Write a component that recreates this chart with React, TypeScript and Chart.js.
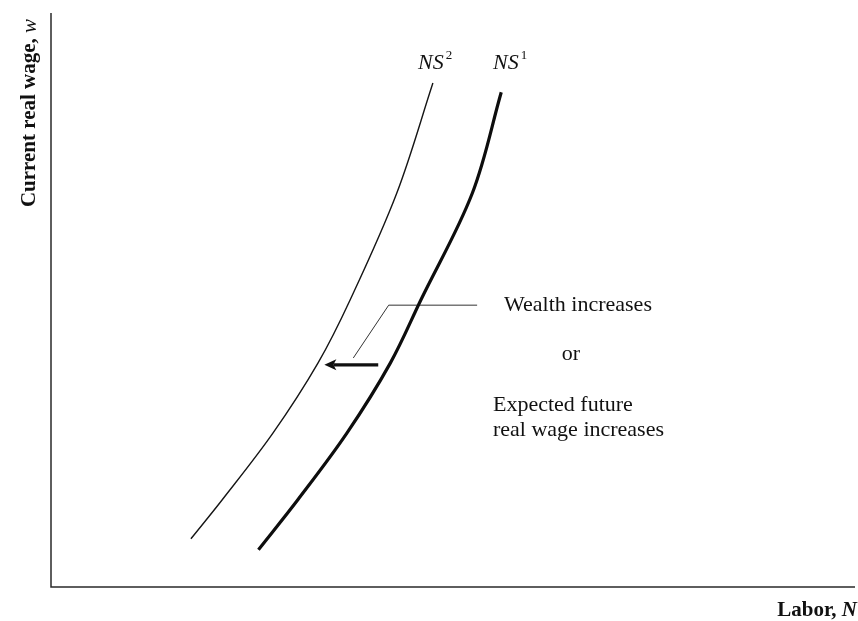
import React, { useEffect, useRef } from 'react';
import { Chart, registerables } from 'chart.js';

Chart.register(...registerables);

// Labor supply curves (x = labor N, y = current real wage w), axis units 0..100
const ns2Labor = [17.4, 21.3, 27.6, 33.2, 37.2, 43.0, 47.5];
const ns2Wage = [8.4, 15.2, 26.8, 39.0, 50.0, 68.6, 87.8];
const ns1Labor = [25.8, 30.7, 36.8, 42.2, 46.0, 52.4, 56.0];
const ns1Wage = [6.5, 15.2, 26.8, 39.0, 50.0, 68.6, 86.2];

// Leader line from the annotation text to the shift arrow
const leaderLabor = [53.0, 42.0, 37.6];
const leaderWage = [49.1, 49.1, 39.9];

// Shift arrow (from NS1 toward NS2)
const arrowLabor = [40.7, 34.0];
const arrowWage = 38.7;

const curveLabels = ['NS', 'NS'];
const curveSups = ['2', '1'];
const xTitle = ['Labor, ', 'N'];
const yTitle = ['Current real wage, ', 'w'];
const noteLines = ['Wealth increases', 'or', 'Expected future', 'real wage increases'];

const toPts = (xs: number[], ys: number[]) => xs.map((x, i) => ({ x, y: ys[i] }));

export default function App() {
  const ref = useRef<HTMLCanvasElement>(null);

  useEffect(() => {
    const canvas = ref.current!;
    const SERIF = '"Liberation Serif", "Times New Roman", serif';

    const annot = {
      id: 'annot',
      afterDatasetsDraw(chart: any) {
        const c = chart.ctx as CanvasRenderingContext2D;
        const { left, right, top, bottom } = chart.chartArea;
        const xs = chart.scales.x;
        const ys = chart.scales.y;
        c.save();

        // axes
        c.strokeStyle = '#2a2a2a';
        c.lineWidth = 1.5;
        c.beginPath();
        c.moveTo(left, top);
        c.lineTo(left, bottom);
        c.lineTo(right, bottom);
        c.stroke();

        // arrow
        const ax0 = xs.getPixelForValue(arrowLabor[0]);
        const ax1 = xs.getPixelForValue(arrowLabor[1]);
        const ay = ys.getPixelForValue(arrowWage);
        c.strokeStyle = '#111';
        c.fillStyle = '#111';
        c.lineWidth = 3.2;
        c.beginPath();
        c.moveTo(ax0, ay);
        c.lineTo(ax1 + 9, ay);
        c.stroke();
        c.beginPath();
        c.moveTo(ax1, ay);
        c.lineTo(ax1 + 12, ay - 5.5);
        c.lineTo(ax1 + 9, ay);
        c.lineTo(ax1 + 12, ay + 5.5);
        c.closePath();
        c.fill();

        // curve labels
        c.fillStyle = '#111';
        c.textBaseline = 'middle';
        c.textAlign = 'left';
        const labelX = [418, 493];
        labelX.forEach((lx, i) => {
          c.font = `italic 22px ${SERIF}`;
          c.fillText(curveLabels[i], lx, 63);
          const w = c.measureText(curveLabels[i]).width;
          c.font = `13px ${SERIF}`;
          c.fillText(curveSups[i], lx + w + 2, 56);
        });

        // note text
        c.font = `22px ${SERIF}`;
        c.textAlign = 'center';
        c.fillText(noteLines[0], 578, 305);
        c.fillText(noteLines[1], 571, 354);
        c.textAlign = 'left';
        c.fillText(noteLines[2], 493, 405);
        c.fillText(noteLines[3], 493, 430);

        // x title
        c.textAlign = 'right';
        c.font = `italic bold 21px ${SERIF}`;
        const nW = c.measureText(xTitle[1]).width;
        c.fillText(xTitle[1], 857, 611);
        c.font = `bold 21px ${SERIF}`;
        c.fillText(xTitle[0], 857 - nW, 611);

        // y title (rotated)
        c.translate(30, 113);
        c.rotate(-Math.PI / 2);
        c.font = `bold 21px ${SERIF}`;
        const w0 = c.measureText(yTitle[0]).width;
        c.font = `italic 21px ${SERIF}`;
        const w1 = c.measureText(yTitle[1]).width;
        const start = -(w0 + w1) / 2;
        c.textAlign = 'left';
        c.font = `bold 21px ${SERIF}`;
        c.fillText(yTitle[0], start, 0);
        c.font = `italic 21px ${SERIF}`;
        c.fillText(yTitle[1], start + w0, 0);

        c.restore();
      },
    };

    const chart = new Chart(canvas, {
      type: 'scatter',
      data: {
        datasets: [
          {
            label: 'NS2',
            data: toPts(ns2Labor, ns2Wage),
            showLine: true,
            borderColor: '#151515',
            borderWidth: 1.4,
            pointRadius: 0,
            tension: 0.35,
          },
          {
            label: 'NS1',
            data: toPts(ns1Labor, ns1Wage),
            showLine: true,
            borderColor: '#0d0d0d',
            borderWidth: 3.2,
            pointRadius: 0,
            tension: 0.35,
          },
          {
            label: 'leader',
            data: toPts(leaderLabor, leaderWage),
            showLine: true,
            borderColor: '#333',
            borderWidth: 1,
            pointRadius: 0,
            tension: 0,
          },
        ],
      },
      options: {
        responsive: false,
        animation: false,
        devicePixelRatio: 1,
        layout: { padding: { left: 51, top: 13, right: 3, bottom: 34 } },
        plugins: { legend: { display: false }, tooltip: { enabled: false } },
        scales: {
          x: { type: 'linear', min: 0, max: 100, display: false },
          y: { type: 'linear', min: 0, max: 100, display: false },
        },
      },
      plugins: [annot],
    } as any);

    return () => chart.destroy();
  }, []);

  return (
    <div style={{ position: 'fixed', left: 0, top: 0, width: 858, height: 621, background: '#fff' }}>
      <canvas ref={ref} width={858} height={621} style={{ width: 858, height: 621, display: 'block' }} />
    </div>
  );
}
